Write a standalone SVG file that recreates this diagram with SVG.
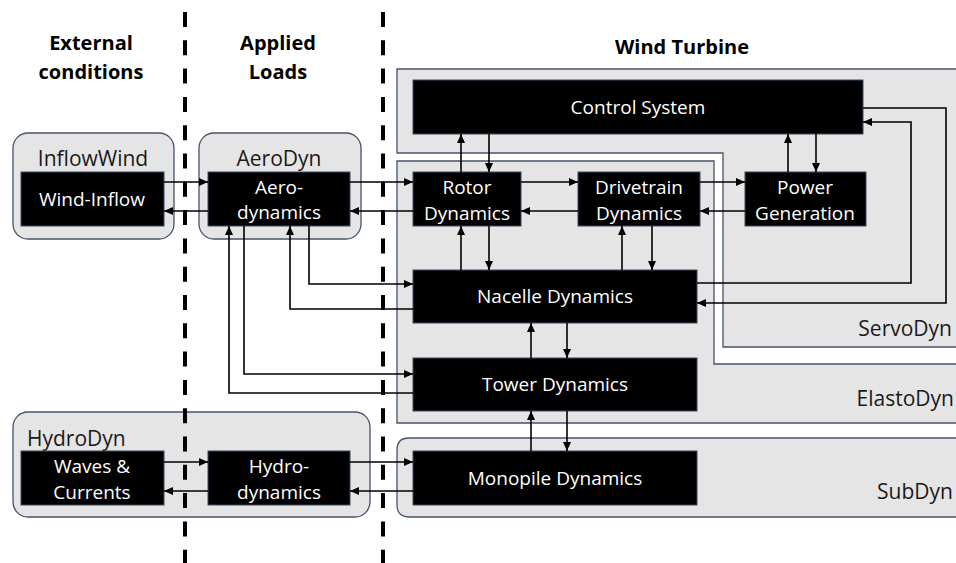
<svg xmlns="http://www.w3.org/2000/svg" width="956" height="563" viewBox="0 0 956 563">
<defs>
<marker id="ah" markerUnits="userSpaceOnUse" markerWidth="9" markerHeight="8" refX="9" refY="4" orient="auto">
<path d="M0,0 L9,4 L0,8 z" fill="#000"/>
</marker>
<style>
.cont{fill:#e5e5e5;stroke:#44546a;stroke-width:1.3}
.blk{fill:#000;stroke:#3b4a66;stroke-width:1}
.t{font-family:"Open Sans","Liberation Sans",sans-serif;font-size:19px;fill:#fff;text-anchor:middle}
.l{font-family:"Open Sans","Liberation Sans",sans-serif;font-size:21px;fill:#1a1a1a}
.h{font-family:"Open Sans","Liberation Sans",sans-serif;font-size:20px;font-weight:bold;fill:#000;text-anchor:middle}
.c{fill:none;stroke:#000;stroke-width:1.6;marker-end:url(#ah)}
.dash{stroke:#000;stroke-width:4;stroke-dasharray:15 13.3}
</style>
</defs>
<rect width="956" height="563" fill="#fff"/>

<g id="titles">
<text class="h" x="91" y="50">External</text>
<text class="h" x="91" y="79">conditions</text>
<text class="h" x="278" y="50">Applied</text>
<text class="h" x="278" y="79">Loads</text>
<text class="h" x="682" y="54">Wind Turbine</text>
</g>

<g id="ServoDyn">
<path class="cont" d="M397,69 H970 V347 H723 V153 H397 Z"/>
<text class="l" x="952" y="336" text-anchor="end">ServoDyn</text>
</g>
<g id="ElastoDyn">
<path class="cont" d="M397,161 H714 V364 H970 V423 H397 Z"/>
<text class="l" x="954" y="406" text-anchor="end">ElastoDyn</text>
</g>
<g id="SubDyn">
<path class="cont" d="M970,438 H409 Q397,438 397,450 V505 Q397,517 409,517 H970 Z"/>
<text class="l" x="953" y="499" text-anchor="end">SubDyn</text>
</g>
<g id="InflowWind">
<rect class="cont" x="13" y="133" width="161" height="106" rx="15"/>
<text class="l" x="93" y="166" text-anchor="middle">InflowWind</text>
</g>
<g id="AeroDyn">
<rect class="cont" x="199" y="133" width="162" height="106" rx="15"/>
<text class="l" x="279" y="166" text-anchor="middle">AeroDyn</text>
</g>
<g id="HydroDyn">
<rect class="cont" x="13" y="412" width="357" height="105" rx="15"/>
<text class="l" x="27" y="446">HydroDyn</text>
</g>

<g id="dividers">
<line class="dash" x1="185" y1="12" x2="185" y2="563"/>
<line class="dash" x1="383" y1="12" x2="383" y2="563"/>
</g>

<g id="wind-inflow">
<rect class="blk" x="21" y="172" width="143" height="54"/>
<text class="t" x="92" y="206">Wind-Inflow</text>
</g>
<g id="aerodynamics">
<rect class="blk" x="208" y="172" width="142" height="54"/>
<text class="t" x="279" y="194">Aero-</text>
<text class="t" x="279" y="219">dynamics</text>
</g>
<g id="control-system">
<rect class="blk" x="413" y="80" width="450" height="54"/>
<text class="t" x="638" y="114">Control System</text>
</g>
<g id="rotor">
<rect class="blk" x="413" y="172" width="108" height="54"/>
<text class="t" x="467" y="194">Rotor</text>
<text class="t" x="467" y="220">Dynamics</text>
</g>
<g id="drivetrain">
<rect class="blk" x="578" y="172" width="122" height="54"/>
<text class="t" x="639" y="194">Drivetrain</text>
<text class="t" x="639" y="220">Dynamics</text>
</g>
<g id="power">
<rect class="blk" x="745" y="172" width="121" height="54"/>
<text class="t" x="805" y="194">Power</text>
<text class="t" x="805" y="220">Generation</text>
</g>
<g id="nacelle">
<rect class="blk" x="413" y="270" width="284" height="53"/>
<text class="t" x="555" y="303">Nacelle Dynamics</text>
</g>
<g id="tower">
<rect class="blk" x="413" y="358" width="284" height="53"/>
<text class="t" x="555" y="391">Tower Dynamics</text>
</g>
<g id="monopile">
<rect class="blk" x="413" y="451" width="284" height="54"/>
<text class="t" x="555" y="485">Monopile Dynamics</text>
</g>
<g id="waves">
<rect class="blk" x="21" y="451" width="143" height="54"/>
<text class="t" x="92" y="473">Waves &amp;</text>
<text class="t" x="92" y="499">Currents</text>
</g>
<g id="hydrodynamics">
<rect class="blk" x="208" y="451" width="142" height="54"/>
<text class="t" x="279" y="473">Hydro-</text>
<text class="t" x="279" y="499">dynamics</text>
</g>

<g id="connectors">
<path class="c" d="M164,182 H208"/>
<path class="c" d="M208,211 H164"/>
<path class="c" d="M350,182 H413"/>
<path class="c" d="M413,211 H350"/>
<path class="c" d="M521,182 H578"/>
<path class="c" d="M578,211 H521"/>
<path class="c" d="M700,182 H745"/>
<path class="c" d="M745,211 H700"/>
<path class="c" d="M461,172 V134"/>
<path class="c" d="M489,134 V172"/>
<path class="c" d="M788,172 V134"/>
<path class="c" d="M816,134 V172"/>
<path class="c" d="M461,270 V226"/>
<path class="c" d="M489,226 V270"/>
<path class="c" d="M622,270 V226"/>
<path class="c" d="M652,226 V270"/>
<path class="c" d="M531,358 V323"/>
<path class="c" d="M567,323 V358"/>
<path class="c" d="M531,451 V411"/>
<path class="c" d="M567,411 V451"/>
<path class="c" d="M697,283 H911 V122 H863"/>
<path class="c" d="M863,108 H946 V303 H697"/>
<path class="c" d="M309,226 V284 H413"/>
<path class="c" d="M413,309 H290 V226"/>
<path class="c" d="M244,226 V374 H413"/>
<path class="c" d="M413,393 H229 V226"/>
<path class="c" d="M164,462 H208"/>
<path class="c" d="M208,491 H164"/>
<path class="c" d="M350,462 H413"/>
<path class="c" d="M413,491 H350"/>
</g>
</svg>
